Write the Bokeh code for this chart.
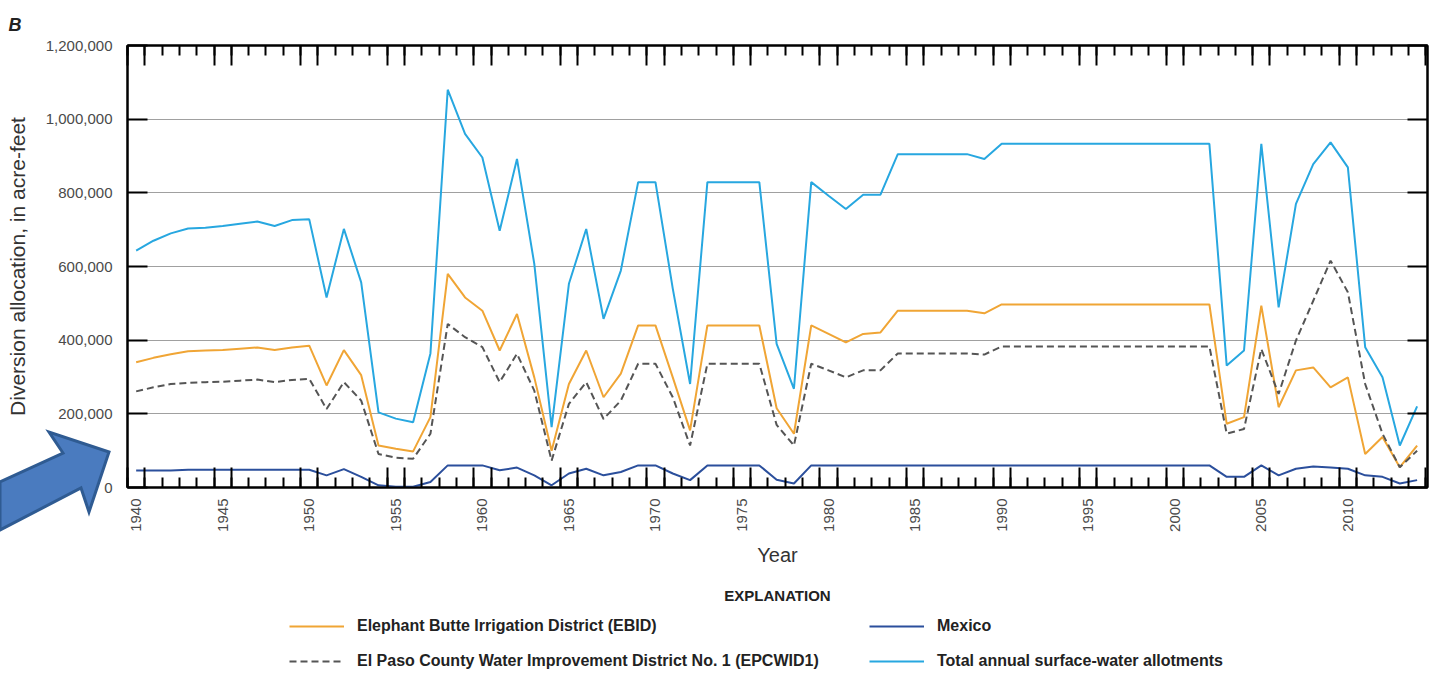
import math

from bokeh.embed import file_html
from bokeh.layouts import column
from bokeh.models import (Div, FixedTicker, Label, Legend, LegendItem, LinearAxis,
                          NumeralTickFormatter, Range1d, Title)
from bokeh.plotting import figure
from bokeh.resources import INLINE

# ---------------------------------------------------------------------------
# Annual diversion allocations, Rio Grande Project, in acre-feet
# ---------------------------------------------------------------------------
years = list(range(1940, 2015))

total_allotment = [
    643000, 670000, 690000, 703000, 705000, 710000, 716000, 722000, 710000, 726000,   # 1940-49
    728000, 516000, 702000, 557000, 204000, 187000, 177000, 364000, 1080000, 960000,  # 1950-59
    896000, 697000, 892000, 607000, 164000, 553000, 702000, 458000, 589000, 829000,   # 1960-69
    829000, 540000, 281000, 829000, 829000, 829000, 829000, 390000, 268000, 829000,   # 1970-79
    792000, 756000, 795000, 795000, 905000, 905000, 905000, 905000, 905000, 892000,   # 1980-89
    933000, 933000, 933000, 933000, 933000, 933000, 933000, 933000, 933000, 933000,   # 1990-99
    933000, 933000, 933000, 331000, 372000, 933000, 489000, 770000, 878000, 937000,   # 2000-09
    869000, 381000, 299000, 114000, 220000,                                           # 2010-14
]

ebid = [
    340000, 352000, 362000, 370000, 372000, 373000, 377000, 380000, 373000, 380000,
    385000, 277000, 373000, 305000, 114000, 105000, 98000, 191000, 580000, 516000,
    480000, 372000, 471000, 299000, 100000, 281000, 372000, 245000, 309000, 440000,
    440000, 299000, 155000, 440000, 440000, 440000, 440000, 215000, 146000, 440000,
    417000, 394000, 417000, 421000, 480000, 480000, 480000, 480000, 480000, 473000,
    497000, 497000, 497000, 497000, 497000, 497000, 497000, 497000, 497000, 497000,
    497000, 497000, 497000, 173000, 191000, 494000, 218000, 318000, 326000, 272000,
    299000, 91000, 137000, 55000, 114000,
]

epcwid1 = [
    261000, 272000, 281000, 284000, 286000, 287000, 290000, 293000, 286000, 292000,
    295000, 213000, 286000, 236000, 91000, 81000, 78000, 146000, 444000, 408000,
    381000, 286000, 363000, 263000, 73000, 227000, 286000, 186000, 236000, 336000,
    336000, 245000, 114000, 336000, 336000, 336000, 336000, 170000, 114000, 336000,
    318000, 299000, 318000, 318000, 364000, 364000, 364000, 364000, 364000, 361000,
    383000, 383000, 383000, 383000, 383000, 383000, 383000, 383000, 383000, 383000,
    383000, 383000, 383000, 146000, 159000, 376000, 254000, 399000, 507000, 616000,
    530000, 281000, 146000, 55000, 100000,
]

mexico = [
    46000, 46000, 46000, 48000, 48000, 48000, 48000, 48000, 48000, 48000,
    48000, 33000, 50000, 29000, 6000, 2000, 2000, 15000, 60000, 60000,
    60000, 47000, 54000, 33000, 6000, 38000, 51000, 33000, 42000, 60000,
    60000, 38000, 20000, 60000, 60000, 60000, 60000, 21000, 11000, 60000,
    60000, 60000, 60000, 60000, 60000, 60000, 60000, 60000, 60000, 60000,
    60000, 60000, 60000, 60000, 60000, 60000, 60000, 60000, 60000, 60000,
    60000, 60000, 60000, 29000, 29000, 60000, 33000, 51000, 57000, 54000,
    51000, 33000, 29000, 11000, 20000,
]

series_names = [
    "Elephant Butte Irrigation District (EBID)",
    "El Paso County Water Improvement District No. 1 (EPCWID1)",
    "Mexico",
    "Total annual surface-water allotments",
]

y_ticks = [0, 200000, 400000, 600000, 800000, 1000000, 1200000]
label_years = [1940, 1945, 1950, 1955, 1960, 1965, 1970, 1975, 1980, 1985,
               1990, 1995, 2000, 2005, 2010]

# tick marks sit between years; the pair around each labelled year is long
year_bounds = [y - 0.5 for y in range(1940, 2016)]
long_bounds = [b for b in year_bounds
               if round(b - 0.5) % 5 == 0 or round(b + 0.5) % 5 == 0]

FONT = "Liberation Sans"
TICK_GREY = "#4a4a4a"
TEXT_DARK = "#222222"

STYLES = [
    dict(line_color="#f0a535", line_width=2),
    dict(line_color="#555555", line_width=2, line_dash="7 4"),
    dict(line_color="#2b4f9c", line_width=2),
    dict(line_color="#27a7e0", line_width=2),
]

PAGE_W, PAGE_H = 1434, 677
CHART_H = 570
BORDER_L, BORDER_R = 127, 7

# ---------------------------------------------------------------- main chart
p = figure(
    width=PAGE_W, height=CHART_H,
    x_range=Range1d(1939.5, 2014.6), y_range=Range1d(0, 1200000),
    output_backend="svg", toolbar_location=None,
    min_border_left=BORDER_L, min_border_right=BORDER_R,
    min_border_top=45, min_border_bottom=83,
    background_fill_color="white", border_fill_color="white",
)
p.outline_line_color = "black"
p.outline_line_width = 2
p.xgrid.visible = False
p.ygrid.grid_line_color = "#a0a0a0"
p.ygrid.grid_line_width = 1
p.ygrid.ticker = FixedTicker(ticks=y_ticks)


def marks_only(axis, ticks):
    """Strip the labels from an axis so that it draws only its tick marks."""
    axis.major_label_overrides = {t: "" for t in ticks}
    axis.major_label_text_color = None
    axis.major_label_text_font_size = "1px"
    axis.major_label_standoff = 0


def tick_axis(axis):
    """An axis that only draws inward tick marks between the years."""
    axis.ticker = FixedTicker(ticks=long_bounds, minor_ticks=year_bounds)
    axis.major_tick_in = 20
    axis.major_tick_out = 0
    axis.minor_tick_in = 10
    axis.minor_tick_out = 0
    axis.major_tick_line_width = 2
    axis.minor_tick_line_width = 2
    axis.major_tick_line_color = "black"
    axis.minor_tick_line_color = "black"
    axis.axis_line_width = 2
    axis.axis_line_color = "black"
    marks_only(axis, long_bounds)


# bottom: tick marks
tick_axis(p.xaxis[0])

# bottom: year labels
year_axis = LinearAxis(
    ticker=FixedTicker(ticks=label_years),
    axis_line_color=None, major_tick_line_color=None, minor_tick_line_color=None,
    major_label_orientation=math.pi / 2, major_label_standoff=5,
    major_label_text_font=FONT, major_label_text_font_size="15px",
    major_label_text_color=TICK_GREY,
    axis_label="Year", axis_label_text_font=FONT, axis_label_text_font_size="20px",
    axis_label_text_font_style="normal", axis_label_text_color="#333333",
    axis_label_standoff=9,
)
p.add_layout(year_axis, "below")

# top: tick marks
top_ticks = LinearAxis()
tick_axis(top_ticks)
p.add_layout(top_ticks, "above")

# panel letter, top-left corner
p.add_layout(Title(text="B", align="left", offset=-119, standoff=21,
                   text_font=FONT, text_font_size="18px",
                   text_font_style="bold italic", text_color=TEXT_DARK), "above")

# left: values
yaxis = p.yaxis[0]
yaxis.ticker = FixedTicker(ticks=y_ticks)
yaxis.formatter = NumeralTickFormatter(format="0,0")
yaxis.major_tick_in = 20
yaxis.major_tick_out = 0
yaxis.major_tick_line_width = 2
yaxis.minor_tick_line_color = None
yaxis.axis_line_width = 2
yaxis.major_label_standoff = 15
yaxis.major_label_text_font = FONT
yaxis.major_label_text_font_size = "15px"
yaxis.major_label_text_color = TICK_GREY
yaxis.axis_label = "Diversion allocation, in acre-feet"
yaxis.axis_label_text_font = FONT
yaxis.axis_label_text_font_size = "21px"
yaxis.axis_label_text_font_style = "normal"
yaxis.axis_label_text_color = "#333333"
yaxis.axis_label_standoff = 14

# right: tick marks only
right_axis = LinearAxis(
    ticker=FixedTicker(ticks=y_ticks),
    major_tick_in=20, major_tick_out=0, major_tick_line_width=2,
    minor_tick_line_color=None, axis_line_width=2,
)
marks_only(right_axis, y_ticks)
p.add_layout(right_axis, "right")

# series
for values, style in zip([ebid, epcwid1, mexico, total_allotment], STYLES):
    p.line(years, values, **style)

# ------------------------------------------------------ pointer arrow (margin)
# drawn as a small transparent SVG that overlaps the chart's lower-left margin
ARROW_TOP, ARROW_H, ARROW_W = 427, 110, 130
arrow_pts = [(109, 25), (49, 5), (63, 26), (0, 55), (0, 103), (81, 61), (89, 85)]
arrow_svg = (
    f'<svg width="{ARROW_W}" height="{ARROW_H}" xmlns="http://www.w3.org/2000/svg" '
    f'style="display:block">'
    f'<polygon points="{" ".join(f"{x},{y}" for x, y in arrow_pts)}" '
    f'fill="#4a7bbf" stroke="#2f5b92" stroke-width="3" stroke-linejoin="miter"/></svg>'
)
arrow = Div(text=arrow_svg, width=ARROW_W, height=ARROW_H, align="start",
            margin=(ARROW_TOP - CHART_H, 0, 0, 0),
            styles={"padding": "0px", "overflow": "visible"})

# ------------------------------------------------------------ explanation
# strip under the chart; its x data are page pixels, its y data are pixels
# measured up from the bottom of the page
STRIP_H = PAGE_H - CHART_H
strip = figure(
    width=PAGE_W, height=STRIP_H,
    x_range=Range1d(BORDER_L, PAGE_W - BORDER_R), y_range=Range1d(0, STRIP_H),
    x_axis_type=None, y_axis_type=None,
    output_backend="svg", toolbar_location=None,
    min_border_left=BORDER_L, min_border_right=BORDER_R,
    min_border_top=0, min_border_bottom=0,
    background_fill_color=None, border_fill_color=None, outline_line_color=None,
    margin=(CHART_H - (ARROW_TOP + ARROW_H), 0, 0, 0),
)
strip.grid.visible = False

strip.add_layout(Label(x=777, y=82, text="EXPLANATION", text_align="center",
                       text_baseline="middle", text_font=FONT, text_font_size="15px",
                       text_font_style="bold", text_color=TEXT_DARK))

# legend keys: short line renderers kept below the visible strip
keys = [strip.line(x=[200, 300], y=[-50, -50], **style) for style in STYLES]
legend = Legend(
    items=[LegendItem(label=name, renderers=[r]) for name, r in zip(series_names, keys)],
    ncols=2,
    location=(162, 5),
    glyph_width=55, glyph_height=20, label_height=22, label_width=499,
    label_standoff=13, spacing=13, padding=6, margin=0,
    label_text_font=FONT, label_text_font_size="16px", label_text_font_style="bold",
    label_text_color=TEXT_DARK,
    background_fill_alpha=0, border_line_color=None,
)
strip.add_layout(legend, "center")

page = column(p, arrow, strip, spacing=0)
open("out.html", "w").write(file_html(page, INLINE))
